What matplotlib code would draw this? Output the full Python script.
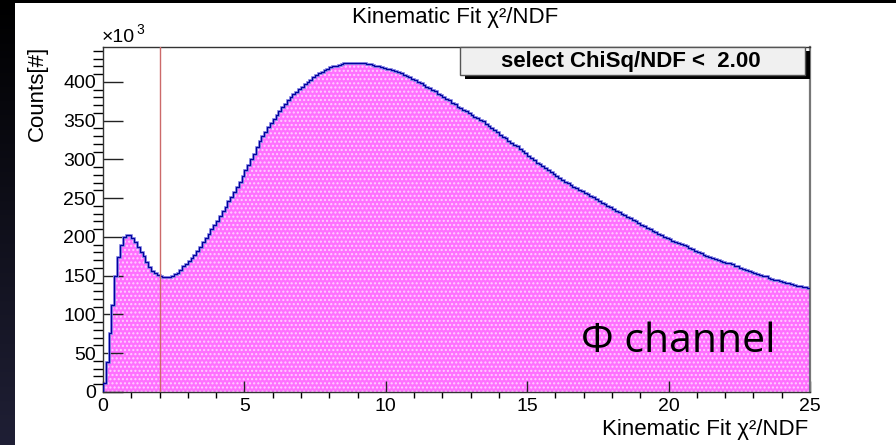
import numpy as np
import matplotlib
matplotlib.use("Agg")
import matplotlib.pyplot as plt
from matplotlib.patches import Rectangle

# bin contents (x10^3), 0.1 wide bins from 0 to 25
counts = [
    12, 39, 76, 112, 149, 174, 190, 200, 203, 202,
    198, 193, 187, 181, 175, 168, 161, 156, 153, 151,
    149, 148, 148, 148, 149, 152, 154, 158, 162, 165,
    169, 173, 177, 182, 187, 193, 198, 204, 210, 215,
    221, 227, 233, 239, 246, 252, 258, 264, 271, 278,
    286, 293, 300, 307, 316, 324, 330, 336, 342, 347,
    352, 357, 362, 367, 372, 376, 380, 384, 387, 391,
    394, 397, 400, 403, 406, 409, 411, 413, 415, 417,
    419, 420, 421, 422, 423, 424, 424, 425, 425, 425,
    424, 424, 424, 423, 423, 422, 421, 420, 419, 418,
    417, 416, 415, 414, 413, 411, 409, 408, 406, 404,
    402, 400, 398, 396, 394, 392, 390, 388, 385, 383,
    380, 378, 376, 373, 371, 368, 366, 364, 362, 360,
    357, 355, 353, 351, 349, 346, 343, 341, 338, 335,
    332, 329, 327, 324, 321, 319, 317, 314, 311, 308,
    305, 302, 299, 296, 294, 291, 289, 286, 284, 281,
    279, 276, 274, 271, 269, 267, 265, 263, 261, 259,
    257, 255, 253, 251, 249, 246, 244, 242, 240, 238,
    236, 234, 232, 230, 228, 226, 224, 222, 220, 218,
    216, 214, 212, 210, 208, 206, 204, 202, 200, 198,
    197, 195, 194, 192, 191, 189, 188, 186, 184, 182,
    180, 179, 177, 176, 174, 173, 171, 170, 169, 168,
    167, 166, 165, 163, 162, 160, 159, 157, 156, 155,
    154, 152, 151, 150, 149, 147, 146, 145, 144, 143,
    142, 141, 140, 139, 138, 137, 137, 136, 135, 134,
]
x_range = (0, 25)
cut_value = 2.0
x_major = [0, 5, 10, 15, 20, 25]
y_major = [0, 50, 100, 150, 200, 250, 300, 350, 400]

W, H = 896, 445
plt.rcParams['font.family'] = ['Liberation Sans', 'DejaVu Sans']
plt.rcParams['hatch.linewidth'] = 1.0


def fx(px):
    return px / W


def fy(py):
    return 1 - py / H


fig = plt.figure(figsize=(W / 100, H / 100), dpi=100, facecolor='white')

# dark slide border on the left and top
bg = fig.add_axes([0, 0, fx(14), 1])
grad = np.linspace(0, 1, 256).reshape(-1, 1)
bg.imshow(grad, aspect='auto', cmap=matplotlib.colors.LinearSegmentedColormap.from_list(
    'g', ['#000000', '#1f1f35']), extent=[0, 1, 0, 1], origin='upper')
bg.axis('off')
fig.patches.append(Rectangle((0, fy(3)), 1, 3 / H, transform=fig.transFigure,
                             facecolor='black', edgecolor='none', zorder=5))

ax = fig.add_axes([fx(103), fy(392), fx(810) - fx(103), fy(47) - fy(392)])
edges = np.linspace(x_range[0], x_range[1], len(counts) + 1)
ax.stairs(counts, edges, fill=True, facecolor='#ff70ff', edgecolor='#ffd0ff',
          hatch='....', linewidth=0, zorder=1)
ax.stairs(counts, edges, color='#8c8ce6', linewidth=2.0, zorder=2)
ax.stairs(counts, edges, color='#0000a0', linewidth=0.9, zorder=3)
ax.axvline(cut_value, color='#cc6a6a', linewidth=1.0, zorder=4)

ax.set_xlim(*x_range)
ax.set_ylim(0, 445)
ax.set_xticks(x_major)
ax.set_xticks(np.arange(0, 26, 1), minor=True)
ax.set_yticks(y_major)
ax.set_yticks(np.arange(0, 445, 10), minor=True)
ax.tick_params(axis='both', direction='in', colors='#222222', labelsize=14,
               labelcolor='black')
ax.tick_params(axis='x', which='major', length=8, width=1, pad=4)
ax.tick_params(axis='x', which='minor', length=4.3, width=1)
ax.tick_params(axis='y', which='major', length=14.4, width=1, pad=5)
ax.tick_params(axis='y', which='minor', length=7, width=1)
for s in ['left', 'top', 'bottom']:
    ax.spines[s].set_color('#333333')
    ax.spines[s].set_linewidth(1.0)
ax.spines['right'].set_color('#777777')
ax.spines['right'].set_linewidth(1.6)

fig.text(fx(455), fy(18), 'Kinematic Fit χ²/NDF', ha='center', va='center', fontsize=16)
fig.text(fx(808), fy(429), 'Kinematic Fit χ²/NDF', ha='right', va='center', fontsize=16)
fig.text(fx(37), fy(46), 'Counts[#]', ha='center', va='top', rotation=90, fontsize=16)
fig.text(fx(102), fy(38), '×10', ha='left', va='center', fontsize=14)
fig.text(fx(136), fy(30), '3', ha='left', va='center', fontsize=10)

# cut box with shadow
fig.patches.append(Rectangle((fx(465), fy(79)), fx(810) - fx(465), fy(51) - fy(79),
                             transform=fig.transFigure, facecolor='black',
                             edgecolor='none', zorder=6))
fig.patches.append(Rectangle((fx(460), fy(75)), fx(805) - fx(460), fy(47) - fy(75),
                             transform=fig.transFigure, facecolor='#f0f0f0',
                             edgecolor='#555555', linewidth=1, zorder=7))
fig.text(fx(631), fy(61), 'select ChiSq/NDF <  2.00', ha='center', va='center',
         fontsize=16, fontweight='bold', zorder=8)

fig.text(fx(581), fy(352), 'Φ channel', ha='left', va='baseline', fontsize=29.5,
         family=['Open Sans', 'DejaVu Sans'], zorder=9)

fig.savefig('out.png', dpi=100, facecolor='white')
